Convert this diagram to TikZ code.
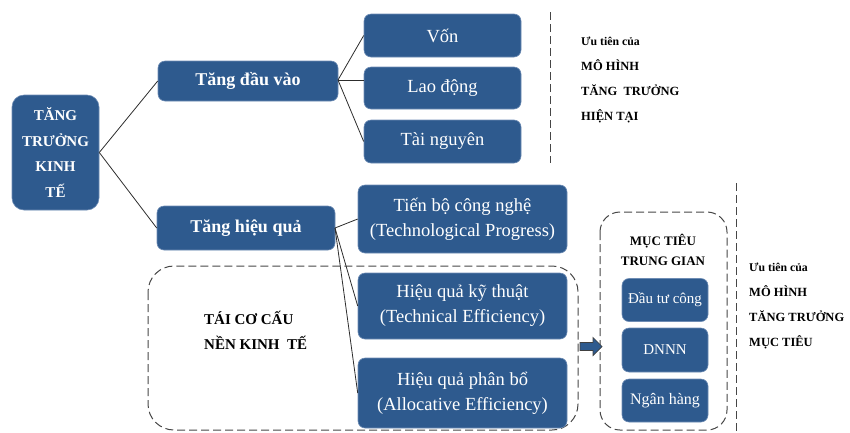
\documentclass[tikz,border=0pt]{standalone}
\usepackage{fontspec}
\setmainfont{Liberation Serif}
\definecolor{boxblue}{RGB}{46,90,142}
\definecolor{boxedge}{RGB}{110,140,180}
\definecolor{lnk}{RGB}{45,45,45}
\definecolor{dsh}{RGB}{70,70,70}
\tikzset{
  bbox/.style={fill=boxblue, draw=boxedge, line width=0.6pt, rounded corners=7pt, text=white, align=center, inner sep=0pt},
  link/.style={draw=lnk, line width=0.8pt},
  dline/.style={draw=dsh, line width=1pt, dash pattern=on 8pt off 4pt},
  lbl/.style={text=black, font=\fontsize{12.5}{25}\selectfont\bfseries, align=left, inner sep=0pt},
  blockarrow/.style={fill=boxblue, draw=black!75, line width=0.7pt, line join=miter},
}
\newcommand{\smallu}[1]{{\fontsize{11.8}{11.8}\selectfont #1}}
\begin{document}
\begin{tikzpicture}[x=1pt,y=-1pt]
\useasboundingbox (0,0) rectangle (850,432);
% dashed frames
\draw[dline, rounded corners=26pt] (148,266) rectangle (578,430);
\draw[dline, rounded corners=20pt] (600,212) rectangle (727,430);
\draw[dline] (550,12) -- (550,163);
\draw[dline] (736,183) -- (736,432);
% boxes
\node[bbox, rounded corners=12pt, minimum width=87pt, minimum height=115pt, font=\fontsize{15}{25.5}\selectfont\bfseries] (root) at (55.5,152.5) {TĂNG\\TRƯỞNG\\KINH\\TẾ};
\node[bbox, minimum width=180pt, minimum height=40pt, font=\fontsize{18}{20}\selectfont\bfseries] (input) at (248,81) {Tăng đầu vào};
\node[bbox, minimum width=157pt, minimum height=43pt, font=\fontsize{18.5}{20}\selectfont] (von) at (442.5,35.5) {Vốn};
\node[bbox, minimum width=157pt, minimum height=42pt, font=\fontsize{18.5}{20}\selectfont] (lao) at (442.5,88) {Lao động};
\node[bbox, minimum width=157pt, minimum height=43pt, font=\fontsize{18.5}{20}\selectfont] (tai) at (442.5,141.5) {Tài nguyên};
\node[bbox, minimum width=178pt, minimum height=44pt, font=\fontsize{18}{20}\selectfont\bfseries] (eff) at (246,228) {Tăng hiệu quả};
\node[bbox, minimum width=209pt, minimum height=68pt, font=\fontsize{18.5}{25}\selectfont] (tech) at (462.5,219) {Tiến bộ công nghệ\\(Technological Progress)};
\node[bbox, minimum width=209pt, minimum height=66pt, font=\fontsize{18.5}{25}\selectfont] (kt) at (462.5,306) {Hiệu quả kỹ thuật\\(Technical Efficiency)};
\node[bbox, minimum width=209pt, minimum height=70pt, font=\fontsize{18.5}{25}\selectfont] (pb) at (462.5,393) {Hiệu quả phân bổ\\(Allocative Efficiency)};
\node[bbox, minimum width=86pt, minimum height=43pt, font=\fontsize{15}{16}\selectfont] (dtc) at (665,300) {Đầu tư công};
\node[bbox, minimum width=86pt, minimum height=44pt, font=\fontsize{15}{16}\selectfont] (dnnn) at (665,350) {DNNN};
\node[bbox, minimum width=86pt, minimum height=43pt, font=\fontsize{16}{16}\selectfont] (nh) at (665,400.5) {Ngân hàng};
% connectors
\coordinate (inR) at (338,80);
\coordinate (effR) at (335,228);
\draw[link] (root.east) -- (input.west);
\draw[link] (root.east) -- (eff.west);
\draw[link] (inR) -- (von.west);
\draw[link] (inR) -- (lao.west |- inR);
\draw[link] (inR) -- (tai.west);
\draw[link] (effR) -- (tech.west);
\draw[link] (effR) -- (kt.west);
\draw[link] (effR) -- (pb.west);
% block arrow
\draw[blockarrow] (580,342.5) -- (593,342.5) -- (593,337.5) -- (602,346.5) -- (593,355.5) -- (593,350.5) -- (580,350.5) -- cycle;
% labels
\node[lbl, anchor=west] (cur) at (581,80) {\smallu{Ưu tiên của}\\MÔ HÌNH\\TĂNG\ \ TRƯỞNG\\HIỆN TẠI};
\node[lbl, anchor=west] (tgt) at (749,306) {\smallu{Ưu tiên của}\\MÔ HÌNH\\TĂNG TRƯỞNG\\MỤC TIÊU};
\node[lbl, anchor=west, font=\fontsize{15}{25}\selectfont\bfseries] (tcc) at (204,330.5) {TÁI CƠ CẤU\\NỀN KINH\ \ TẾ};
\node[lbl, align=center, font=\fontsize{13}{20}\selectfont\bfseries] (mttg) at (663,250) {MỤC TIÊU\\TRUNG GIAN};
\end{tikzpicture}
\end{document}
